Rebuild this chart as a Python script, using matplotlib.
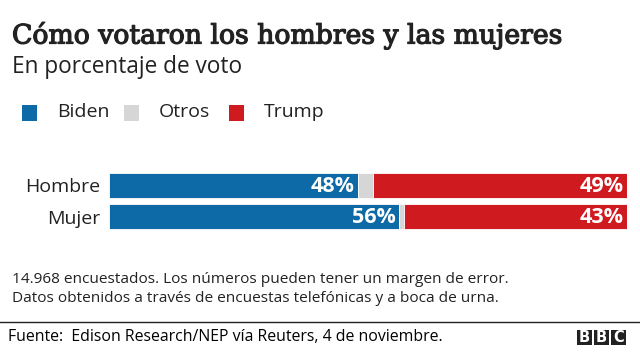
import matplotlib
matplotlib.use("Agg")
import matplotlib.pyplot as plt
import matplotlib.patheffects as pe
from matplotlib.patches import Rectangle
import numpy as np

# ---------------------------------------------------------------------------
# Data
# ---------------------------------------------------------------------------
categories = ["Hombre", "Mujer"]
series_names = ["Biden", "Otros", "Trump"]
biden = [48, 56]
otros = [3, 1]
trump = [49, 43]

COLORS = {"Biden": "#0e6aa6", "Otros": "#d6d6d6", "Trump": "#cf1a1f"}

TITLE = "Cómo votaron los hombres y las mujeres"
SUBTITLE = "En porcentaje de voto"
NOTE = ("14.968 encuestados. Los números pueden tener un margen de error.\n"
        "Datos obtenidos a través de encuestas telefónicas y a boca de urna.")
SOURCE = "Fuente:  Edison Research/NEP vía Reuters, 4 de noviembre."

W, H = 640, 352
SANS = ["Open Sans", "DejaVu Sans"]
SERIF = ["DejaVu Serif"]
TXT = "#222222"


def fx(px):
    return px / W


def fy(py):
    return 1 - py / H


fig = plt.figure(figsize=(W / 100, H / 100), dpi=100)
fig.patch.set_facecolor("white")

# Titles
fig.text(fx(12), fy(35), TITLE, family=SERIF, fontsize=19.2,
         color=TXT, va="center", ha="left",
         path_effects=[pe.withStroke(linewidth=0.9, foreground=TXT)])
fig.text(fx(12), fy(67), SUBTITLE, family=SANS, fontsize=16.3,
         color=TXT, va="center", ha="left")

# Legend
leg_x = [22, 124, 229]
for name, x0 in zip(series_names, leg_x):
    fig.patches.append(Rectangle((fx(x0), fy(121)), fx(15), 16 / H,
                                 transform=fig.transFigure,
                                 facecolor=COLORS[name], edgecolor="none"))
    fig.text(fx(x0 + 35), fy(112), name, family=SANS, fontsize=14,
             color=TXT, va="center", ha="left")

# Bars
ax = fig.add_axes([fx(109), fy(232), fx(518), (232 - 170) / H])
y = np.arange(len(categories))
left = np.zeros(len(categories))
for name, vals in zip(series_names, [biden, otros, trump]):
    vals = np.array(vals, dtype=float)
    ax.barh(y, vals, left=left, height=0.8, color=COLORS[name],
            edgecolor="white", linewidth=0.6)
    if name != "Otros":
        for yi, l, v in zip(y, left, vals):
            ax.text(l + v - 0.6, yi + 0.03, f"{v:.0f}%", color="white",
                    fontsize=15.5, weight="bold", family=SANS,
                    ha="right", va="center")
    left += vals

ax.set_xlim(0, 100)
ax.set_ylim(1.5, -0.5)
ax.set_yticks(y)
ax.set_yticklabels(categories, family=SANS, fontsize=14, color=TXT)
ax.tick_params(axis="y", length=0, pad=6)
ax.set_xticks([])
for s in ax.spines.values():
    s.set_visible(False)

# Footnote
fig.text(fx(12), fy(289), NOTE, family=SANS, fontsize=11.1, color=TXT,
         va="center", ha="left", linespacing=1.3)

# Source line
fig.add_artist(plt.Line2D([0, 1], [fy(322), fy(322)], color="#222222",
                          linewidth=1.0, transform=fig.transFigure))
fig.text(fx(8), fy(337), SOURCE, family=SANS, fontsize=11.4, color="black",
         va="center", ha="left")

# BBC logo
for i, letter in enumerate("BBC"):
    x0 = 577 + i * 17
    fig.patches.append(Rectangle((fx(x0), fy(345)), fx(15), 15 / H,
                                 transform=fig.transFigure,
                                 facecolor="#222222", edgecolor="none"))
    fig.text(fx(x0 + 7.5), fy(337.5), letter, family=["DejaVu Sans"],
             fontsize=10.5, weight="bold", color="white", ha="center", va="center")

fig.savefig("out.png", dpi=100)
